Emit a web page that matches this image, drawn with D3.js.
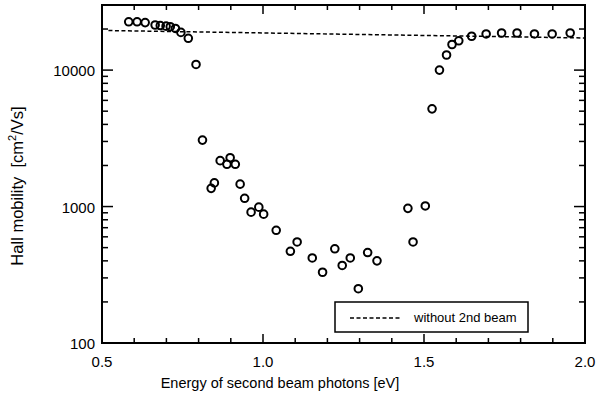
<!DOCTYPE html>
<html><head><meta charset="utf-8">
<script src="https://cdn.jsdelivr.net/npm/d3@7"></script>
<style>body{margin:0;background:#fff}svg{display:block}text{font-family:"Liberation Sans",Arial,sans-serif;fill:#000;white-space:pre}</style>
</head><body>
<script>
// Data
const energy = [0.583,0.609,0.634,0.665,0.681,0.699,0.712,0.728,0.745,0.768,0.792,
  0.812,0.839,0.849,0.867,0.888,0.898,0.914,0.929,0.943,0.963,0.987,1.002,1.041,
  1.085,1.106,1.153,1.185,1.223,1.246,1.271,1.296,1.325,1.354,1.450,1.466,1.504,
  1.525,1.548,1.570,1.587,1.608,1.648,1.693,1.741,1.789,1.843,1.898,1.954];
const mobility = [22600,22600,22300,21400,21200,21000,20800,20200,18900,17100,11000,
  3070,1360,1490,2170,2040,2280,2040,1460,1150,910,990,880,670,
  470,550,420,330,490,370,420,250,460,400,970,550,1010,
  5200,10000,12900,15400,16400,17700,18400,18700,18700,18400,18400,18700];
const baselineE = [0.52,2.0];
const baselineMu = [19500,17200];
const xTicks = [0.5,1.0,1.5,2.0];
const xTickLabels = ["0.5","1.0","1.5","2.0"];
const yTicks = [100,1000,10000];
const yTickLabels = ["100","1000","10000"];
const legendLabel = "without 2nd beam";

const W=597,H=400;
const L=102,R=585,T=5,B=343;
const svg=d3.select("body").append("svg").attr("width",W).attr("height",H);
const x=d3.scaleLinear().domain([0.5,2.0]).range([L,R]);
const y=d3.scaleLog().domain([100,30000]).range([B,T]);

// minor ticks
const xMinor=d3.range(0.6,2.0,0.1).map(v=>+v.toFixed(1));
const g=svg.append("g").attr("stroke","#000").attr("stroke-width",1.5);
xMinor.forEach(v=>{
  const big=Math.abs(v-1.0)<1e-6||Math.abs(v-1.5)<1e-6;
  g.append("line").attr("x1",x(v)).attr("x2",x(v)).attr("y1",B).attr("y2",B-(big?9:5));
  g.append("line").attr("x1",x(v)).attr("x2",x(v)).attr("y1",T).attr("y2",T+(big?9:5));
});
const yMinor=[];
[100,1000,10000].forEach(d=>{for(let k=1;k<10;k++){const v=d*k;if(v>100&&v<30000)yMinor.push(v);}});
yMinor.forEach(v=>{
  const big=(v===1000||v===10000);
  g.append("line").attr("x1",L).attr("x2",L+(big?11:6)).attr("y1",y(v)).attr("y2",y(v));
  g.append("line").attr("x1",R).attr("x2",R-(big?11:6)).attr("y1",y(v)).attr("y2",y(v));
});
// frame
svg.append("rect").attr("x",L).attr("y",T).attr("width",R-L).attr("height",B-T)
  .attr("fill","none").attr("stroke","#000").attr("stroke-width",2);

// tick labels
svg.selectAll(".xl").data(xTicks).enter().append("text")
  .attr("x",d=>x(d)).attr("y",B+24).attr("text-anchor","middle")
  .attr("font-size",15).text((d,i)=>xTickLabels[i]);
svg.selectAll(".yl").data(yTicks).enter().append("text")
  .attr("x",L-7).attr("y",d=>y(d)+6).attr("text-anchor","end")
  .attr("font-size",15).text((d,i)=>yTickLabels[i]);

// baseline dashed
const line=d3.line().x((d,i)=>x(baselineE[i])).y((d,i)=>y(baselineMu[i]));
svg.append("path").datum(baselineE).attr("d",line).attr("fill","none")
  .attr("stroke","#000").attr("stroke-width",1.5).attr("stroke-dasharray","4,2.5");

// points
svg.selectAll(".pt").data(energy).enter().append("circle")
  .attr("cx",d=>x(d)).attr("cy",(d,i)=>y(mobility[i])).attr("r",3.8)
  .attr("fill","none").attr("stroke","#000").attr("stroke-width",2);

// legend
svg.append("rect").attr("x",335).attr("y",302).attr("width",193).attr("height",30)
  .attr("fill","#fff").attr("stroke","#000").attr("stroke-width",1.5);
svg.append("line").attr("x1",350).attr("x2",400).attr("y1",318).attr("y2",318)
  .attr("stroke","#000").attr("stroke-width",1.5).attr("stroke-dasharray","4,2.5");
svg.append("text").attr("x",414).attr("y",322).attr("font-size",13).text(legendLabel);

// axis titles
svg.append("text").attr("x",280).attr("y",388).attr("text-anchor","middle")
  .attr("font-size",14.5).text("Energy of second beam photons [eV]");
const yt=svg.append("text").attr("transform","translate(23,186) rotate(-90)")
  .attr("text-anchor","middle").attr("font-size",16.5);
yt.append("tspan").text("Hall mobility  [cm");
yt.append("tspan").attr("font-size",11).attr("dy",-7).text("2");
yt.append("tspan").attr("dy",7).text("/Vs]");
</script>
</body></html>
